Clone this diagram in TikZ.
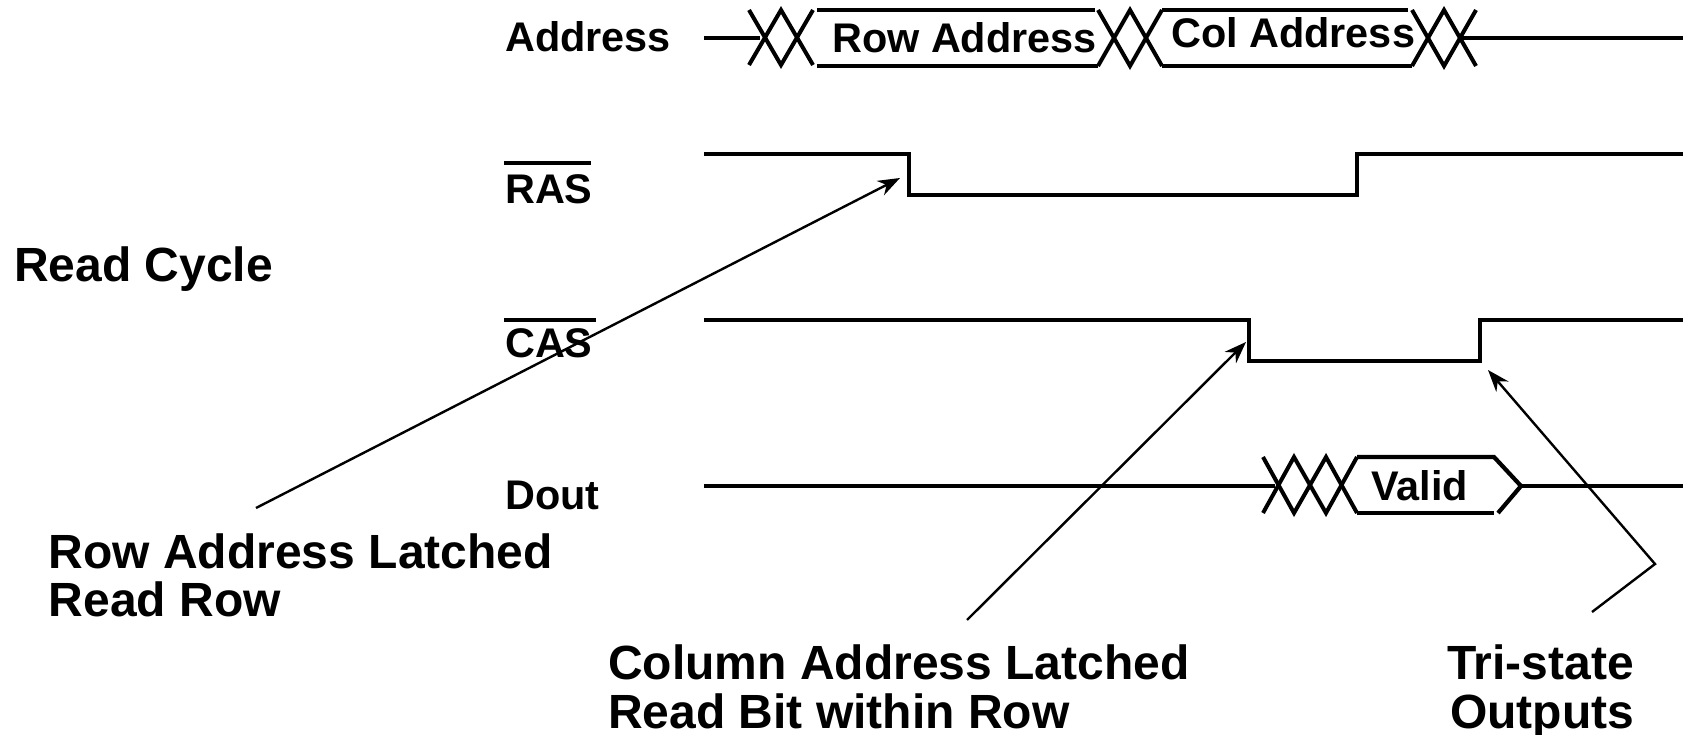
\documentclass[tikz,border=0pt]{standalone}
\usepackage{fontspec}
\setmainfont{Liberation Sans}[BoldFont={Liberation Sans Bold}]
\usetikzlibrary{arrows.meta}
\tikzset{
  sig/.style={line width=4.2pt,line cap=butt,line join=miter},
  xing/.style={line width=4pt,line cap=butt,line join=miter},
  ann/.style={line width=2.4pt,-{Stealth[length=22pt,width=16pt,inset=7pt]}},
  big/.style={anchor=base west,inner sep=0pt,font=\fontsize{48}{48}\selectfont\bfseries},
  small/.style={anchor=base west,inner sep=0pt,font=\fontsize{41.4}{41}\selectfont\bfseries}
}
\begin{document}
\begin{tikzpicture}[x=1pt,y=-1pt]
\useasboundingbox (0,0) rectangle (1691,735);
% labels
\node[small] (laddr) at (505,52) {Address};
\node[small] (lras) at (505,204) {RAS};
\node[small] (lcas) at (505,357) {CAS};
\node[small] (ldout) at (505,509) {Dout};
\node[big] (lread) at (14,281) {Read Cycle};
\node[big] (lrow1) at (48.5,568) {Row Address Latched};
\node[big] (lrow2) at (48.5,616) {Read Row};
\node[big] (lcol1) at (608,679) {Column Address Latched};
\node[big] (lcol2) at (608,728) {Read Bit within Row};
\node[big] (ltri1) at (1447,679) {Tri-state};
\node[big] (ltri2) at (1450,728) {Outputs};
\node[small] (trow) at (832,53) {Row Address};
\node[small] (tcol) at (1171,48) {Col Address};
\node[small] (tval) at (1371,500) {Valid};
% overbars
\draw[sig] (504,163) -- (591,163);
\draw[sig] (504,320) -- (596,320);
% address bus
\draw[sig] (704,38) -- (760,38);
\draw[xing] (749,10) -- (781,65) -- (813,10);
\draw[xing] (749,65) -- (781,10) -- (813,65);
\draw[sig] (817,10) -- (1095,10);
\draw[sig] (817,66) -- (1098,66);
\draw[xing] (1098,66) -- (1130,10) -- (1162,66);
\draw[xing] (1098,10) -- (1130,66) -- (1162,10);
\draw[sig] (1162,10) -- (1408,10);
\draw[sig] (1162,66) -- (1412,66);
\draw[xing] (1412,66) -- (1444,10) -- (1476,66);
\draw[xing] (1412,10) -- (1444,66) -- (1476,10);
\draw[sig] (1462,38) -- (1683,38);
% RAS
\draw[sig] (704,154) -- (909,154) -- (909,195) -- (1357,195) -- (1357,154) -- (1683,154);
% CAS
\draw[sig] (704,320) -- (1249,320) -- (1249,361) -- (1480,361) -- (1480,320) -- (1683,320);
% Dout
\draw[sig] (704,486) -- (1275,486);
\draw[xing] (1263,457) -- (1294,513) -- (1326,457) -- (1357,513);
\draw[xing] (1263,513) -- (1294,457) -- (1326,513) -- (1357,457);
\draw[sig] (1357,457) -- (1494,457) -- (1521,486) -- (1498,513);
\draw[sig] (1357,513) -- (1494,513);
\draw[sig] (1521,486) -- (1683,486);
% annotations
\coordinate (rowfrom) at (256,508);
\coordinate (rowto) at (900,178);
\coordinate (colfrom) at (967,620);
\coordinate (colto) at (1246,342);
\coordinate (trifrom) at (1592,612);
\coordinate (trimid) at (1655,564);
\coordinate (trito) at (1488,370);
\draw[ann] (rowfrom) -- (rowto);
\draw[ann] (colfrom) -- (colto);
\draw[ann] (trifrom) -- (trimid) -- (trito);
\end{tikzpicture}
\end{document}
